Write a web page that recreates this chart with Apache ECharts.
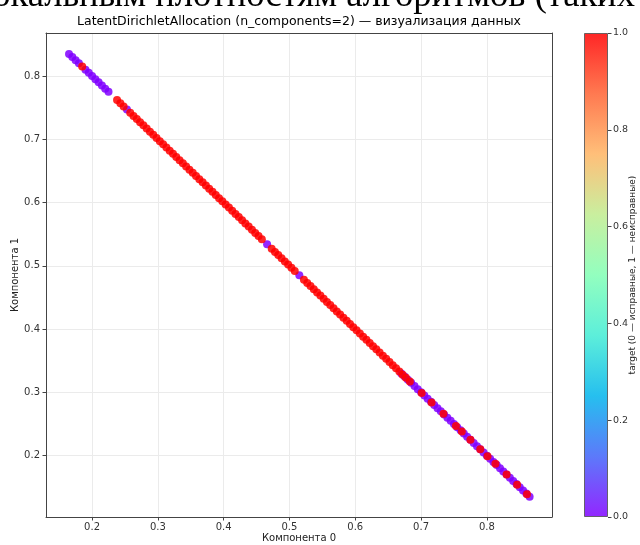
<!DOCTYPE html>
<html>
<head>
<meta charset="UTF-8">
<title>LDA</title>
<script type="text/javascript" src="https://cdn.jsdelivr.net/npm/echarts@6/dist/echarts.min.js"></script>
<style>
  body{margin:0;background:#fff}
</style>
</head>
<body>
<div id="main" style="width:640px;height:545px"></div>
<script type="text/javascript">
// target 0 (исправные)
var comp0_t0 = [0.165,0.170,0.175,0.180,0.190,0.195,0.200,0.205,0.210,0.215,0.220,0.225,
  0.253,0.466,0.515,
  0.670,0.675,0.680,0.685,0.690,0.695,0.700,0.705,0.710,0.715,0.720,0.725,0.730,0.735,0.740,0.745,0.750,0.755,0.760,0.765,
  0.770,0.775,0.780,0.785,0.790,0.795,0.800,0.805,0.810,0.815,0.820,0.825,0.830,0.835,0.840,0.845,0.850,0.855,0.860,0.865];
var comp1_t0 = [0.835,0.830,0.825,0.820,0.810,0.805,0.800,0.795,0.790,0.785,0.780,0.775,
  0.747,0.534,0.485,
  0.330,0.325,0.320,0.315,0.310,0.305,0.300,0.295,0.290,0.285,0.280,0.275,0.270,0.265,0.260,0.255,0.250,0.245,0.240,0.235,
  0.230,0.225,0.220,0.215,0.210,0.205,0.200,0.195,0.190,0.185,0.180,0.175,0.170,0.165,0.160,0.155,0.150,0.145,0.140,0.135];
// target 1 (неисправные)
var comp0_t1 = [0.185,0.238,0.243,0.248,
  0.258,0.263,0.268,0.273,0.278,0.283,0.288,0.293,0.298,0.303,0.308,0.313,0.318,0.323,0.328,0.333,0.338,0.343,0.348,0.353,
  0.358,0.363,0.368,0.373,0.378,0.383,0.388,0.393,0.398,0.403,0.408,0.413,0.418,0.423,0.428,0.433,0.438,0.443,0.448,0.453,0.458,
  0.473,0.478,0.483,0.488,0.493,0.498,0.503,0.508,
  0.522,0.527,0.532,0.537,0.542,0.547,0.552,0.557,0.562,0.567,0.572,0.577,0.582,0.587,0.592,0.597,0.602,0.607,0.612,0.617,
  0.622,0.627,0.632,0.637,0.642,0.647,0.652,0.657,0.662,0.667,0.672,0.677,
  0.683,0.701,0.716,0.734,0.753,0.762,0.775,0.790,0.801,0.813,0.830,0.846,0.861];
var comp1_t1 = [0.815,0.762,0.757,0.752,
  0.742,0.737,0.732,0.727,0.722,0.717,0.712,0.707,0.702,0.697,0.692,0.687,0.682,0.677,0.672,0.667,0.662,0.657,0.652,0.647,
  0.642,0.637,0.632,0.627,0.622,0.617,0.612,0.607,0.602,0.597,0.592,0.587,0.582,0.577,0.572,0.567,0.562,0.557,0.552,0.547,0.542,
  0.527,0.522,0.517,0.512,0.507,0.502,0.497,0.492,
  0.478,0.473,0.468,0.463,0.458,0.453,0.448,0.443,0.438,0.433,0.428,0.423,0.418,0.413,0.408,0.403,0.398,0.393,0.388,0.383,
  0.378,0.373,0.368,0.363,0.358,0.353,0.348,0.343,0.338,0.333,0.328,0.323,
  0.317,0.299,0.284,0.266,0.247,0.238,0.225,0.210,0.199,0.187,0.170,0.154,0.139];

var xTicks = [0.2,0.3,0.4,0.5,0.6,0.7,0.8];
var yTicks = [0.2,0.3,0.4,0.5,0.6,0.7,0.8];
// matplotlib "rainbow"
var rainbow = ['#8000ff','#4062fa','#00b4ec','#40ecd4','#80ffb4','#c0ec8e','#ffb462','#ff6232','#ff0000'];

function pack(xs, ys, t){
  var out = [];
  for (var i = 0; i < xs.length; i++) out.push([xs[i], ys[i], t]);
  return out;
}

var stops = [];
for (var i = 0; i < rainbow.length; i++) {
  stops.push({offset: 1 - i / (rainbow.length - 1), color: rainbow[i]});
}

var font = 'DejaVu Sans';
var myChart = echarts.init(document.getElementById('main'));
var option = {
  animation: false,
  textStyle: {fontFamily: font},
  graphic: [
    // cut-off line of the surrounding document
    {type: 'text', x: -26, y: -22, silent: true,
     style: {text: 'локальным плотностям алгоритмов (таких', font: '36.5px "Liberation Serif"', fill: '#000'}},
    {type: 'text', x: 299, y: 22, silent: true,
     style: {text: 'LatentDirichletAllocation (n_components=2) — визуализация данных', font: '12.5px "DejaVu Sans"', fill: '#000', textAlign: 'center', textVerticalAlign: 'middle'}}
  ],
  grid: [
    {left: 46, right: 88, top: 33, bottom: 28, outerBoundsMode: 'none'},
    {left: 584, width: 24, top: 33, bottom: 28, outerBoundsMode: 'none'}
  ],
  xAxis: [
    {type: 'value', gridIndex: 0, min: 0.13, max: 0.899,
     name: 'Компонента 0', nameLocation: 'middle', nameGap: 16, nameMoveOverlap: false,
     nameTextStyle: {fontSize: 10, color: '#222'},
     axisLine: {show: true, onZero: false, lineStyle: {color: '#444'}},
     axisTick: {show: true, length: 3.5, lineStyle: {color: '#444'}, customValues: xTicks},
     axisLabel: {fontSize: 10, color: '#333', margin: 5, customValues: xTicks, formatter: function(v){return v.toFixed(1);}},
     splitLine: {show: true, lineStyle: {color: '#ebebeb'}}},
    {type: 'value', gridIndex: 0, position: 'top', min: 0.13, max: 0.899,
     axisLine: {show: true, lineStyle: {color: '#444'}}, axisTick: {show: false}, axisLabel: {show: false}, splitLine: {show: false}},
    {type: 'category', gridIndex: 1, data: ['cb'], show: false}
  ],
  yAxis: [
    {type: 'value', gridIndex: 0, min: 0.103, max: 0.868,
     name: 'Компонента 1', nameLocation: 'middle', nameGap: 26, nameRotate: 90, nameMoveOverlap: false,
     nameTextStyle: {fontSize: 10, color: '#222'},
     axisLine: {show: true, onZero: false, lineStyle: {color: '#444'}},
     axisTick: {show: true, length: 3.5, lineStyle: {color: '#444'}, customValues: yTicks},
     axisLabel: {fontSize: 10, color: '#333', margin: 6, customValues: yTicks, formatter: function(v){return v.toFixed(1);}},
     splitLine: {show: true, lineStyle: {color: '#ebebeb'}}},
    {type: 'value', gridIndex: 0, position: 'right', min: 0.103, max: 0.868,
     axisLine: {show: true, lineStyle: {color: '#444'}}, axisTick: {show: false}, axisLabel: {show: false}, splitLine: {show: false}},
    {type: 'value', gridIndex: 1, position: 'right', min: 0, max: 1, interval: 0.2,
     name: 'target (0 — исправные, 1 — неисправные)', nameLocation: 'middle', nameGap: 20, nameRotate: 90, nameMoveOverlap: false,
     nameTextStyle: {fontSize: 9, color: '#222'},
     axisLine: {show: false},
     axisTick: {show: true, length: 3.5, lineStyle: {color: '#444'}},
     axisLabel: {fontSize: 9.5, color: '#333', margin: 5, formatter: function(v){return v.toFixed(1);}},
     splitLine: {show: false}}
  ],
  visualMap: {
    show: false, type: 'continuous', dimension: 2, min: 0, max: 1, seriesIndex: [0, 1],
    inRange: {color: rainbow}
  },
  series: [
    {type: 'scatter', name: '0', xAxisIndex: 0, yAxisIndex: 0, symbolSize: 8,
     itemStyle: {opacity: 0.85}, data: pack(comp0_t0, comp1_t0, 0)},
    {type: 'scatter', name: '1', xAxisIndex: 0, yAxisIndex: 0, symbolSize: 8,
     itemStyle: {opacity: 0.85}, data: pack(comp0_t1, comp1_t1, 1)},
    {type: 'bar', xAxisIndex: 2, yAxisIndex: 2, barWidth: '100%', silent: true,
     itemStyle: {opacity: 0.85, borderColor: '#555', borderWidth: 1,
       color: new echarts.graphic.LinearGradient(0, 0, 0, 1, stops)},
     data: [1]}
  ]
};
myChart.setOption(option);
</script>
</body>
</html>
